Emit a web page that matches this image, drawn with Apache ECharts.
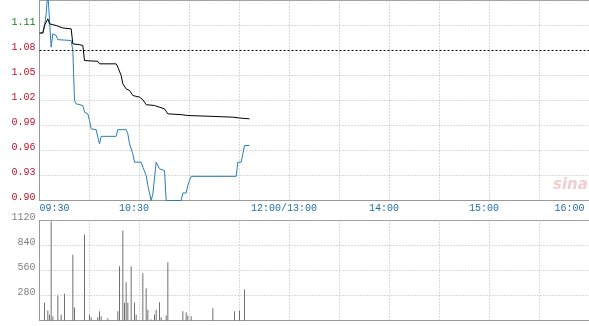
<!DOCTYPE html>
<html>
<head>
<meta charset="utf-8">
<script src="https://cdn.jsdelivr.net/npm/echarts@6/dist/echarts.min.js"></script>
<style>html,body{margin:0;padding:0;background:#fff;}#c{width:589px;height:326px;}</style>
</head>
<body>
<div id="c"></div>
<script>
// ---- data ----
const priceTimes = ['09:30','09:32','09:33','09:34','09:35','09:37','09:38','09:39','09:40','09:41','09:49','09:50','09:51','09:52','09:56','09:57','09:59','10:00','10:01','10:04','10:05','10:06','10:07','10:16','10:17','10:22','10:23','10:24','10:26','10:27','10:31','10:32','10:34','10:35','10:37','10:38','10:40','10:41','10:42','10:45','10:46','10:55','10:56','10:58','10:59','11:00','11:01','11:28','11:29','11:31','11:33','11:36'];
const prices = [1.101,1.101,1.110,1.124,1.150,1.084,1.100,1.101,1.098,1.093,1.092,1.080,1.020,1.016,1.014,1.006,1.004,0.996,0.986,0.985,0.976,0.968,0.977,0.977,0.985,0.985,0.980,0.968,0.956,0.946,0.946,0.940,0.930,0.918,0.900,0.908,0.946,0.947,0.938,0.936,0.900,0.900,0.909,0.909,0.918,0.924,0.929,0.929,0.946,0.946,0.966,0.966];

const avgTimes = ['09:30','09:32','09:33','09:35','09:36','09:38','09:40','09:44','09:49','09:50','09:54','09:56','09:57','10:05','10:06','10:16','10:17','10:19','10:20','10:22','10:24','10:26','10:30','10:32','10:33','10:34','10:39','10:40','10:45','10:47','10:55','10:59','11:13','11:26','11:30','11:31','11:36'];
const avgPrices = [1.101,1.101,1.110,1.118,1.112,1.111,1.110,1.107,1.106,1.088,1.087,1.086,1.068,1.067,1.064,1.064,1.060,1.050,1.040,1.034,1.032,1.026,1.024,1.021,1.018,1.015,1.014,1.012,1.010,1.004,1.003,1.002,1.001,1.000,0.999,0.998,0.998];

const volTimes = ['09:33','09:35','09:36','09:37','09:38','09:41','09:43','09:45','09:50','09:51','09:57','10:00','10:01','10:05','10:06','10:07','10:11','10:17','10:18','10:20','10:21','10:22','10:23','10:25','10:27','10:28','10:32','10:34','10:35','10:37','10:39','10:40','10:42','10:43','10:46','10:47','10:56','10:58','10:59','11:01','11:14','11:27','11:30','11:33'];
const volumes = [198,112,64,1110,48,280,64,299,736,146,963,64,37,37,104,48,26,104,608,1008,198,429,198,605,198,64,530,362,120,10,67,120,205,37,56,653,104,93,56,48,138,104,112,347];

const prevClose = 1.082;
const priceMin = 0.90, priceMax = 1.14, priceStep = 0.03;
const volMax = 1120, volStep = 280;
const timeTickLabels = {0:'09:30', 60:'10:30', 150:'12:00/13:00', 210:'14:00', 270:'15:00', 330:'16:00'};

// trading-minute index (HK session: 09:30-12:00, 13:00-16:00)
function tIdx(s){
  const p = s.split(':'); const t = (+p[0])*60 + (+p[1]);
  return t <= 720 ? t - 570 : t - 780 + 150;
}
const pricePts = priceTimes.map((t,i)=>[tIdx(t), prices[i]]);
const avgPts = avgTimes.map((t,i)=>[tIdx(t), avgPrices[i]]);
const volPts = volTimes.map((t,i)=>[tIdx(t), volumes[i]]);

const mono = 'Liberation Mono';
const gridDot = {color:'#b4b4b4', type:[1,2], width:1};
const nTicks = Math.round((priceMax-priceMin)/priceStep)+1;
const priceSplitColors = [];
for (let i=0;i<nTicks;i++){
  const v = priceMin + i*priceStep;
  priceSplitColors.push(Math.abs(v-1.08) < 1e-6 ? 'rgba(0,0,0,0)' : '#b4b4b4');
}

const chart = echarts.init(document.getElementById('c'), null, {renderer:'canvas'});
chart.setOption({
  animation:false,
  backgroundColor:'#fff',
  grid:[
    {left:39.5, top:0.5, width:550, height:200, show:true, borderColor:'#999', borderWidth:1, backgroundColor:'transparent', containLabel:false, outerBoundsMode:'none'},
    {left:39.5, top:220.5, width:550, height:100, show:true, borderColor:'#999', borderWidth:1, backgroundColor:'transparent', containLabel:false, outerBoundsMode:'none'}
  ],
  xAxis:[
    {gridIndex:0, type:'value', min:0, max:330, interval:30,
     axisLine:{show:true, lineStyle:{color:'#999'}}, axisTick:{show:false},
     splitLine:{show:true, lineStyle:gridDot},
     axisLabel:{show:true, margin:3, fontFamily:mono, fontSize:10, color:'#1f6fa0',
       alignMinLabel:'left', alignMaxLabel:'right',
       formatter:function(v){
         const s = timeTickLabels[Math.round(v)];
         if (!s) return '';
         if (Math.round(v)===0) return '{l|'+s+'}';
         if (Math.round(v)===330) return '{r|'+s+'}';
         return '{c|'+s+'}';
       },
       rich:{
         l:{fontFamily:mono, fontSize:10, color:'#1f6fa0'},
         c:{fontFamily:mono, fontSize:10, color:'#1f6fa0', padding:[0,11,0,0]},
         r:{fontFamily:mono, fontSize:10, color:'#1f6fa0', padding:[0,5,0,0]}
       }
     }},
    {gridIndex:1, type:'value', min:0, max:330, interval:30,
     axisLine:{show:true, lineStyle:{color:'#999'}}, axisTick:{show:false},
     splitLine:{show:true, lineStyle:gridDot}, axisLabel:{show:false}}
  ],
  yAxis:[
    {gridIndex:0, type:'value', min:priceMin, max:priceMax, interval:priceStep,
     axisLine:{show:true, lineStyle:{color:'#999'}}, axisTick:{show:false},
     splitLine:{show:true, lineStyle:{color:priceSplitColors, type:[1,2], width:1}},
     axisLabel:{margin:4, fontFamily:mono, fontSize:10, verticalAlign:'bottom', lineHeight:6,
       formatter:function(v){return (+v).toFixed(2);},
       color:function(v){return (+v) > prevClose ? '#1a7d1a' : '#c0102a';}}},
    {gridIndex:1, type:'value', min:0, max:volMax, interval:volStep,
     axisLine:{show:true, lineStyle:{color:'#999'}}, axisTick:{show:false},
     splitLine:{show:true, lineStyle:gridDot},
     axisLabel:{margin:4, fontFamily:mono, fontSize:10, color:'#808080', verticalAlign:'bottom', lineHeight:6,
       showMinLabel:false, formatter:function(v){return String(Math.round(v));}}}
  ],
  graphic:[
    {type:'text', left:553, top:178, silent:true, z:0,
     style:{text:'sina', font:'italic bold 15px "DejaVu Sans"', fill:'rgba(210,90,90,0.30)'}}
  ],
  series:[
    {name:'price', type:'line', xAxisIndex:0, yAxisIndex:0, data:pricePts, showSymbol:false,
     lineStyle:{color:'#2a7db5', width:1}, clip:true,
     markLine:{silent:true, symbol:'none', label:{show:false},
       lineStyle:{color:'#000', type:[2,2], width:1}, data:[{yAxis:prevClose}]}},
    {name:'avg', type:'line', xAxisIndex:0, yAxisIndex:0, data:avgPts, showSymbol:false,
     lineStyle:{color:'#000', width:1}, clip:true},
    {name:'vol', type:'bar', xAxisIndex:1, yAxisIndex:1, data:volPts, barWidth:1,
     itemStyle:{color:'#707070'}}
  ]
});
</script>
</body>
</html>
